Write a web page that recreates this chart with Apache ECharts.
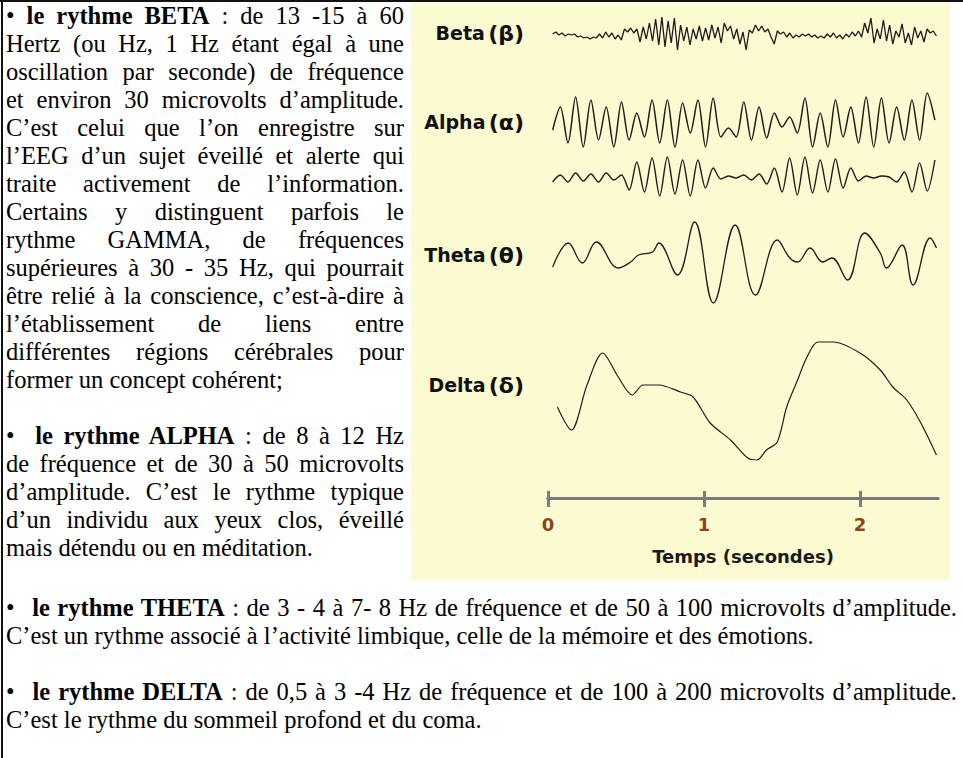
<!DOCTYPE html>
<html>
<head>
    <meta charset="utf-8">
    <title>Rythmes EEG</title>
    <script src="https://cdn.jsdelivr.net/npm/echarts@6.0.0/dist/echarts.min.js"></script>
    <style>
        body {
            margin: 0;
            width: 963px;
            height: 758px;
            overflow: hidden;
            background: #fff;
            position: relative;
            font-family: "Liberation Serif", "Times New Roman", serif;
            font-size: 24.5px;
            color: #000;
        }

        .topline {
            position: absolute; left: 0; top: 0; width: 963px; height: 2px; background: #111;
        }

        .leftline {
            position: absolute; left: 1px; top: 0; width: 2px; height: 758px; background: #111;
        }

        .bloc {
            position: absolute;
            line-height: 28px;
        }

        .bloc div {
            height: 28px;
        }

        .j {
            text-align: justify;
            text-align-last: justify;
        }

        .l {
            text-align: left;
        }

        .sp {
            display: inline-block;
            width: 10px;
        }

        #chart {
            position: absolute;
            left: 411px;
            top: 3px;
            width: 539px;
            height: 577px;
        }
    </style>
</head>
<body>
<div class="topline"></div>
<div class="leftline"></div>

<!-- colonne de gauche -->
<div class="bloc" style="left: 6px; top: 2px; width: 398px;">
    <div class="j">• <b>le rythme BETA</b> : de 13 -15 à 60</div>
    <div class="j">Hertz (ou Hz, 1 Hz étant égal à une</div>
    <div class="j">oscillation par seconde) de fréquence</div>
    <div class="j">et environ 30 microvolts d’amplitude.</div>
    <div class="j">C’est celui que l’on enregistre sur</div>
    <div class="j">l’EEG d’un sujet éveillé et alerte qui</div>
    <div class="j">traite activement de l’information.</div>
    <div class="j">Certains y distinguent parfois le</div>
    <div class="j">rythme GAMMA, de fréquences</div>
    <div class="j">supérieures à 30 - 35 Hz, qui pourrait</div>
    <div class="j">être relié à la conscience, c’est-à-dire à</div>
    <div class="j">l’établissement de liens entre</div>
    <div class="j">différentes régions cérébrales pour</div>
    <div class="l">former un concept cohérent;</div>
    <div></div>
    <div class="j">•<span class="sp"></span> <b>le rythme ALPHA</b> : de 8 à 12 Hz</div>
    <div class="j">de fréquence et de 30 à 50 microvolts</div>
    <div class="j">d’amplitude. C’est le rythme typique</div>
    <div class="j">d’un individu aux yeux clos, éveillé</div>
    <div class="l">mais détendu ou en méditation.</div>
</div>

<!-- bas de page -->
<div class="bloc" style="left: 6px; top: 594px; width: 951px;">
    <div class="j">•<span class="sp"></span> <b>le rythme THETA</b> : de 3 - 4 à 7- 8 Hz de fréquence et de 50 à 100 microvolts d’amplitude.</div>
    <div class="l">C’est un rythme associé à l’activité limbique, celle de la mémoire et des émotions.</div>
    <div></div>
    <div class="j">•<span class="sp"></span> <b>le rythme DELTA</b> : de 0,5 à 3 -4 Hz de fréquence et de 100 à 200 microvolts d’amplitude.</div>
    <div class="l">C’est le rythme du sommeil profond et du coma.</div>
</div>

<div id="chart"></div>

<script>
    // temps en secondes, amplitudes (unités arbitraires, + vers le haut)
    var tempsTicks = [0, 1, 2];

    var betaStart = 0.03;
    var betaStep = 0.02;
    var betaValues = [1, 3, 0, 2, -1, 1, 0, 1, -2, -1,
        -3, -2, -4, -2, -3, 1, -3, 3, -2, 2,
        -4, 0, -5, 6, 3, 7, 2, 6, -7, 8,
        -4, 12, -6, 16, -10, 18, -12, 14, -8, 17,
        -15, 10, -6, 8, -10, 6, -4, 9, -6, 7,
        -5, 10, -3, 8, -8, 12, 4, 9, -4, 6,
        -9, 3, -15, 5, 2, 10, 4, 9, 3, 6,
        -2, -9, 4, 1, 3, -2, 2, -3, 0, -2,
        1, -1, 1, -2, 0, -3, -1, -3, 1, -2,
        2, -3, 0, -4, 1, -2, 3, -1, 4, -2,
        12, 2, 17, -8, 6, -4, 15, -6, 10, -9,
        4, -2, 11, -8, 2, -10, 8, -3, 4, -7,
        6, 2, 4, -1];

    var alphaStart = 0.03;
    var alphaStep = 0.049;
    var alpha1Values = [-8, 15, -21, 25, -25, 22, -18, 15, -25, 20,
        -18, 9, -15, 22, -21, 22, -25, 19, -11, 22,
        -25, 24, -15, -6, -15, 20, -18, 15, -16, 9,
        -5, 5, -11, 24, -25, 9, -25, 22, -15, 15,
        -21, 25, -25, 24, -21, 15, -18, 22, -18, 29, 2];
    var alpha2Values = [-4, 3, -4, 5, -3, 4, -4, 5, -2, 3,
        -12, 16, -14, 20, -18, 21, -16, 18, -18, 18,
        -10, 10, -1, 2, 0, 3, -2, 4, -6, 10,
        -14, 20, -17, 21, -15, 18, -14, 19, -10, 10,
        -3, 2, 0, 2, 1, -4, 6, -14, 15, -13, 18];

    var thetaTimes = [0.03, 0.13, 0.22, 0.31, 0.45, 0.53, 0.58, 0.67, 0.71, 0.83, 0.94, 1.06, 1.2, 1.33,
        1.47, 1.55, 1.6, 1.68, 1.76, 1.82, 1.92, 2.03, 2.13, 2.17, 2.27, 2.34, 2.45, 2.49];
    var thetaValues = [-9, 15, -5, 16, -10, -4, 3, 6, 15, -17, 36, -45, 33, -37,
        18, 0, -4, 10, -4, 0, -22, 25, 5, -10, 13, -27, 20, 10];

    var deltaTimes = [0.06, 0.15, 0.25, 0.35, 0.45, 0.54, 0.61, 0.71, 0.85, 0.93, 1.04, 1.17, 1.28, 1.34,
        1.4, 1.47, 1.53, 1.6, 1.66, 1.73, 1.83, 2.0, 2.13, 2.21, 2.3, 2.39, 2.49];
    var deltaValues = [-7, -30, 15, 47, 23, 5, 15, 15, 8, 3, -23, -40, -58, -60,
        -50, -42, -7, 20, 43, 58, 58, 47, 30, 13, 0, -23, -55];

    function pasFixe(start, step, values) {
        return values.map(function (v, i) {
            return [+(start + i * step).toFixed(3), v];
        });
    }

    function paires(times, values) {
        return times.map(function (t, i) {
            return [t, values[i]];
        });
    }

    var encre = '#1c1c1c';
    var police = 'DejaVu Sans';

    // une grille par trace : haut, hauteur, min et max de l'amplitude
    var traces = [
        {top: 13, height: 34, min: -15, max: 19, label: 'Beta', grec: 'β'},
        {top: 89, height: 60, min: -30, max: 30, label: 'Alpha', grec: 'α'},
        {top: 153, height: 44, min: -22, max: 22, label: '', grec: ''},
        {top: 204, height: 96, min: -45, max: 51, label: 'Theta', grec: 'θ'},
        {top: 307, height: 150, min: -60, max: 90, label: 'Delta', grec: 'δ'}
    ];

    var grids = [], xAxes = [], yAxes = [];
    traces.forEach(function (tr, i) {
        grids.push({left: 137, width: 390, top: tr.top, height: tr.height, outerBoundsMode: 'none'});
        xAxes.push({gridIndex: i, type: 'value', min: 0, max: 2.5, show: false});
        yAxes.push({
            gridIndex: i, type: 'value', min: tr.min, max: tr.max,
            axisLine: {show: false}, axisTick: {show: false}, axisLabel: {show: false}, splitLine: {show: false},
            name: tr.label ? '{n|' + tr.label + '} {g|(' + tr.grec + ')}' : '',
            nameLocation: 'middle', nameRotate: 0, nameGap: 24,
            nameTextStyle: {
                align: 'right', verticalAlign: 'middle',
                rich: {
                    n: {fontFamily: police, fontWeight: 'bold', fontSize: 19, color: '#111'},
                    g: {fontFamily: police, fontWeight: 'bold', fontSize: 22, color: '#111'}
                }
            }
        });
    });

    // axe du temps
    grids.push({left: 137, width: 390, top: 455, height: 40, outerBoundsMode: 'none'});
    var axeGris = {show: true, lineStyle: {color: '#7b7b7b', width: 3}};
    xAxes.push({
        gridIndex: 5, type: 'value', min: 0, max: 2.5, position: 'bottom',
        axisLine: axeGris,
        axisTick: {show: true, inside: true, length: 7, customValues: tempsTicks, lineStyle: {color: '#7b7b7b', width: 3}},
        axisLabel: {show: false}, splitLine: {show: false}
    });
    xAxes.push({
        gridIndex: 5, type: 'value', min: 0, max: 2.5, position: 'bottom',
        axisLine: axeGris,
        axisTick: {show: true, length: 9, customValues: tempsTicks, lineStyle: {color: '#7b7b7b', width: 3}},
        axisLabel: {
            show: true, customValues: tempsTicks, margin: 17,
            fontFamily: police, fontWeight: 'bold', fontSize: 18, color: '#8f4416'
        },
        splitLine: {show: false},
        name: 'Temps (secondes)', nameLocation: 'middle', nameGap: 49,
        nameTextStyle: {fontFamily: police, fontWeight: 'bold', fontSize: 18, color: '#1a1a1a'}
    });
    yAxes.push({gridIndex: 5, type: 'value', min: 0, max: 1, show: false});

    function trace(idx, data, width, smooth) {
        return {
            type: 'line', xAxisIndex: idx, yAxisIndex: idx, data: data,
            showSymbol: false, smooth: smooth, silent: true,
            lineStyle: {color: encre, width: width}
        };
    }

    var chart = echarts.init(document.getElementById('chart'), null, {renderer: 'svg'});
    chart.setOption({
        animation: false,
        backgroundColor: '#fcfad0',
        grid: grids,
        xAxis: xAxes,
        yAxis: yAxes,
        series: [
            trace(0, pasFixe(betaStart, betaStep, betaValues), 1.3, false),
            trace(1, pasFixe(alphaStart, alphaStep, alpha1Values), 1.5, 0.3),
            trace(2, pasFixe(alphaStart, alphaStep, alpha2Values), 1.4, 0.3),
            trace(3, paires(thetaTimes, thetaValues), 1.3, 0.4),
            trace(4, paires(deltaTimes, deltaValues), 1.2, 0.3)
        ]
    });
</script>
</body>
</html>
